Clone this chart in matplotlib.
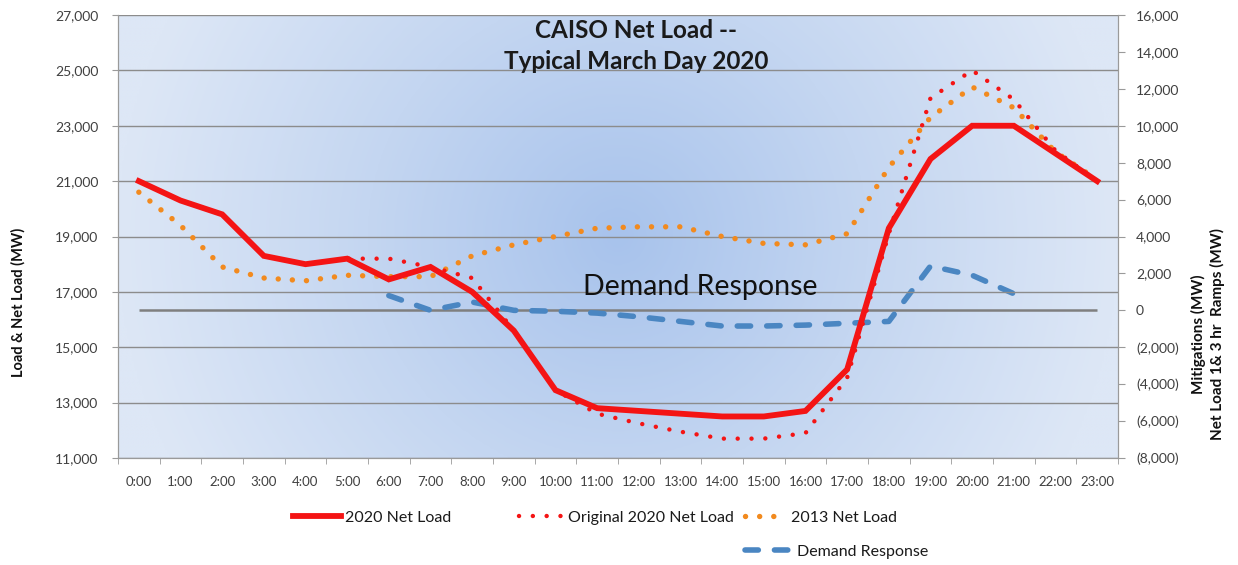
import numpy as np
import matplotlib.pyplot as plt
import matplotlib as mpl
from matplotlib.lines import Line2D
from matplotlib.colors import LinearSegmentedColormap
from matplotlib.ticker import FuncFormatter, MultipleLocator, FixedLocator

plt.rcParams['font.family'] = ['Lato', 'DejaVu Sans']

# hourly categories
hours = ['%d:00' % h for h in range(24)]

# load & net load (MW), left axis
net_2020 = [21000, 20300, 19800, 18300, 18000, 18200, 17450, 17900, 17000, 15600,
            13450, 12800, 12700, 12600, 12500, 12500, 12700, 14200, 19300, 21800,
            23000, 23000, 22000, 21000]
orig_2020 = [21000, 20300, 19800, 18300, 18000, 18200, 18200, 17900, 17500, 15600,
             13450, 12600, 12250, 11950, 11700, 11700, 11900, 13900, 19100, 24000,
             25000, 23950, 22100, 21000]
net_2013 = [20600, 19400, 17900, 17500, 17400, 17600, 17550, 17550, 18300, 18700,
            19000, 19300, 19350, 19350, 19000, 18750, 18700, 19100, 21500, 23300,
            24400, 23650, 22050, 21050]

# demand response (MW), right axis, 6:00 .. 21:00
dr_hours = list(range(6, 22))
demand_resp = [800, 0, 450, 0, -50, -150, -350, -600, -850, -850, -800, -700,
               -600, 2400, 1900, 900]

x = np.arange(len(hours))
c_red = '#f41414'
c_org = '#f28a1e'
c_blue = '#4a86c2'

fig = plt.figure(figsize=(12.38, 5.65), dpi=100)
ax = fig.add_axes([118/1238, 1-458/565, 1000/1238, 443/565])
ax2 = ax.twinx()
ax.set_zorder(2)
ax2.set_zorder(1)
ax.patch.set_visible(False)

# background gradient, dark in the middle, light at the sides
gx, gy = np.meshgrid(np.linspace(-1, 1, 400), np.linspace(-1, 1, 200))
t = np.clip(np.sqrt(gx**2 + (0.45*gy)**2), 0, 1)
cmap = LinearSegmentedColormap.from_list('bg', ['#a8c3ec', '#c4d6f1', '#dde7f6'])
ax2.imshow(t, cmap=cmap, extent=[0, 1, 0, 1], transform=ax2.transAxes,
           aspect='auto', zorder=0, interpolation='bicubic')

ax.set_xlim(-0.5, 23.5)
ax.set_ylim(11000, 27000)
ax2.set_ylim(-8000, 16000)
ax.yaxis.set_major_locator(FixedLocator(np.arange(11000, 27001, 2000)))
ax2.yaxis.set_major_locator(MultipleLocator(2000))
ax.grid(axis='y', color='#8c8c8c', lw=1.0)
ax.set_axisbelow(True)

ax2.hlines(0, x[0], x[-1], color='#7f7f7f', lw=1.8, zorder=2)
ax2.plot(dr_hours, demand_resp, color=c_blue, lw=4, linestyle=(0, (2.4, 2.9)),
         dash_capstyle='round', zorder=3)

ax.plot(x, net_2013, color=c_org, lw=3.9, linestyle=(0, (0.01, 2.6)),
        dash_capstyle='round', zorder=3)
ax.plot(x, orig_2020, color=c_red, lw=3.2, linestyle=(0, (0.01, 3.1)),
        dash_capstyle='round', zorder=4)
ax.plot(x, net_2020, color=c_red, lw=4.2, solid_joinstyle='miter', zorder=5)

# axes styling
for a in (ax, ax2):
    for s in a.spines.values():
        s.set_color('#9a9a9a')
    a.spines['top'].set_visible(False)
ax.set_xticks(x)
ax.set_xticklabels(hours)
ax.set_xticks(np.arange(-0.5, 24, 1), minor=True)
ax.tick_params(axis='x', which='major', length=0, pad=13, labelsize=9.5, colors='#404040')
ax.tick_params(axis='x', which='minor', length=4, color='#9a9a9a')
ax.tick_params(axis='y', length=4, color='#9a9a9a', pad=10, labelsize=10, labelcolor='#404040')
ax2.tick_params(axis='y', length=5, color='#9a9a9a', pad=8, labelsize=10, labelcolor='#404040')
ax.yaxis.set_major_formatter(FuncFormatter(lambda v, p: '{:,.0f}'.format(v)))
ax2.yaxis.set_major_formatter(FuncFormatter(
    lambda v, p: '0' if v == 0 else ('({:,.0f})'.format(-v) if v < 0 else '{:,.0f}'.format(v))))

fig.text(636/1238, 1-46/565, 'CAISO Net Load --\nTypical March Day 2020', ha='center',
         va='center', fontsize=17.5, fontweight='bold', color='#1a1a1a', linespacing=1.45)
fig.text(700/1238, 1-287/565, 'Demand Response', ha='center', va='center',
         fontsize=20.5, color='#111111')
fig.text(18/1238, 1-302/565, 'Load & Net Load (MW)', rotation=90, ha='center',
         va='center', fontsize=10.5, fontweight='bold', color='#111111')
fig.text(1208/1238, 1-334/565, 'Mitigations (MW)\nNet Load 1& 3 hr  Ramps (MW)',
         rotation=90, ha='center', va='center', fontsize=11, fontweight='bold',
         color='#111111', multialignment='center', linespacing=1.4)

# legend entries placed like the original
entries = [
    (Line2D([], [], color=c_red, lw=4.2), '2020 Net Load', 293, 518, 3.0),
    (Line2D([], [], color=c_red, lw=3.2, linestyle=(0, (0.01, 3.1)), dash_capstyle='round'),
     'Original 2020 Net Load', 519, 518, 2.8),
    (Line2D([], [], color=c_org, lw=3.9, linestyle=(0, (0.01, 2.6)), dash_capstyle='round'),
     '2013 Net Load', 745, 518, 2.6),
    (Line2D([], [], color=c_blue, lw=4, linestyle=(0, (2.4, 2.9)), dash_capstyle='round'),
     'Demand Response', 745, 552, 3.0),
]
for h, lab, px, py, hl in entries:
    leg = fig.legend([h], [lab], loc='center left', bbox_to_anchor=(px/1238, 1-py/565),
                     frameon=False, fontsize=11.5, handlelength=hl, handletextpad=0.25,
                     borderpad=0, borderaxespad=0)
    for tx in leg.get_texts():
        tx.set_color('#1a1a1a')

fig.savefig('out.png', dpi=100)
